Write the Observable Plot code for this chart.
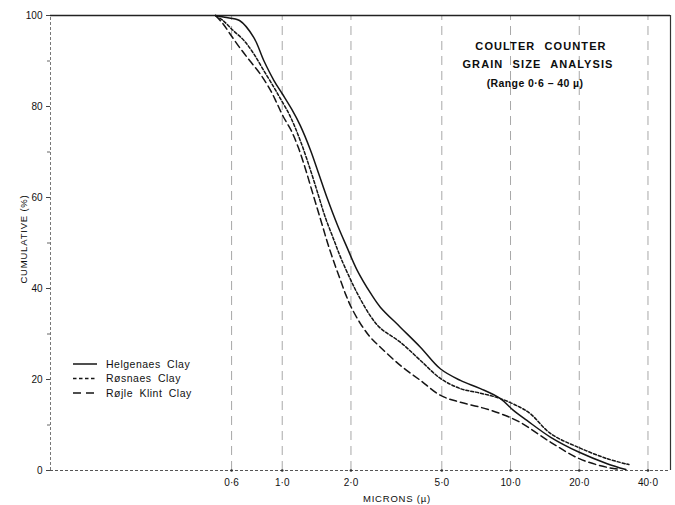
<!DOCTYPE html>
<html><head><meta charset="utf-8">
<script src="https://cdn.jsdelivr.net/npm/d3@7"></script>
<script src="https://cdn.jsdelivr.net/npm/@observablehq/plot@0.6"></script>
<style>
body{margin:0;background:#fff;font-family:"Liberation Sans",Arial,sans-serif;}
#wrap{position:relative;width:675px;height:505px;overflow:hidden;}
.t{position:absolute;color:#0d0d0d;white-space:nowrap;transform:translate(-50%,-50%);}
</style></head><body><div id="wrap"></div>
<script>
// ---- data ----
const xDomain = [0.0966, 50.2];
const xTicks = [0.6, 1, 2, 5, 10, 20, 40];
const xTickLabels = ["0·6", "1·0", "2·0", "5·0", "10·0", "20·0", "40·0"];
const yTicks = [0, 20, 40, 60, 80, 100];
const yMinorTicks = [10, 30, 50, 70, 90];
const seriesNames = ["Helgenaes Clay", "Røsnaes Clay", "Røjle Klint Clay"];

const helgenaesX = [0.51, 0.56, 0.65, 0.75, 0.83, 0.92, 1.0, 1.1, 1.2, 1.33, 1.45, 1.57, 1.75, 1.92, 2.13, 2.45, 2.69, 3.29, 4.03, 4.94, 6.03, 7.38, 9.03, 10.3, 11.8, 15, 20, 26.5, 32];
const helgenaesY = [100, 99.6, 98.9, 95.2, 90.1, 85.7, 82.8, 79.4, 75.8, 70.4, 65, 60, 53.8, 49.1, 44, 38.8, 35.9, 31.5, 27.1, 22.3, 19.8, 18, 15.8, 13.2, 11, 7.3, 4.0, 1.5, 0.2];

const rosnaesX = [0.51, 0.55, 0.61, 0.68, 0.75, 0.83, 0.92, 0.98, 1.08, 1.2, 1.33, 1.44, 1.54, 1.68, 1.8, 1.99, 2.16, 2.43, 2.69, 3.29, 4.03, 4.94, 6.03, 7.38, 9.03, 11, 12.2, 15, 20, 26.5, 33];
const rosnaesY = [100, 98.9, 96.7, 94.5, 91.6, 87.9, 84.2, 81.8, 78, 72.5, 66, 60.5, 55.8, 50.8, 46.9, 42, 38.4, 34, 31.3, 28.2, 24.2, 20.2, 18, 17, 15.8, 13.9, 12.5, 8.1, 5.0, 2.6, 1.3];

const rojleX = [0.51, 0.55, 0.59, 0.65, 0.72, 0.8, 0.89, 0.95, 1.01, 1.1, 1.18, 1.26, 1.34, 1.42, 1.5, 1.58, 1.68, 1.8, 1.9, 2.0, 2.2, 2.43, 2.69, 3.29, 4.03, 4.94, 6.03, 7.38, 9.03, 11, 15, 20, 26.5, 30];
const rojleY = [100, 98.2, 96, 93, 90.1, 87.2, 83.5, 80.6, 77.8, 74.5, 70.8, 66.5, 62, 57.8, 53.8, 50, 46, 41.8, 38.6, 36, 32.3, 29.3, 27.1, 23.1, 19.8, 16.5, 15, 13.9, 12.5, 10.6, 6.2, 2.6, 0.7, 0.3];

const dashes = [null, "3,2", "7,4"];
const allX = [helgenaesX, rosnaesX, rojleX];
const allY = [helgenaesY, rosnaesY, rojleY];
const rows = seriesNames.flatMap((s, i) => allX[i].map((x, j) => ({series: s, x, y: allY[i][j]})));

const lineMarks = seriesNames.map((s, i) =>
  Plot.line(rows.filter(d => d.series === s), {
    x: "x", y: "y", curve: "catmull-rom", stroke: "#151515", strokeWidth: 1.5,
    strokeDasharray: dashes[i] ?? undefined
  }));

const chart = Plot.plot({
  width: 675, height: 505,
  marginLeft: 50, marginRight: 5, marginTop: 15, marginBottom: 35,
  style: {fontFamily: '"Liberation Sans", Arial, sans-serif', fontSize: "10px", color: "#111", background: "#fff"},
  x: {type: "log", domain: xDomain, axis: null},
  y: {domain: [0, 100], axis: null},
  marks: [
    Plot.ruleX(xTicks, {y1: 0, y2: 100, stroke: "#a8a8a8", strokeDasharray: "9,6", strokeWidth: 1}),
    Plot.ruleX([xDomain[0]], {y1: 0, y2: 100, stroke: "#777", strokeDasharray: "3,2", strokeWidth: 1}),
    Plot.ruleX([xDomain[1]], {y1: 0, y2: 100, stroke: "#333", strokeWidth: 1.2}),
    Plot.ruleY([0], {stroke: "#555", strokeDasharray: "3,2", strokeWidth: 1}),
    Plot.ruleY([100], {stroke: "#222", strokeWidth: 1.4}),
    Plot.axisY(yTicks, {tickSize: 4, tickPadding: 4, fontSize: 10, label: null, stroke: "#444"}),
    Plot.axisY(yMinorTicks, {tickSize: 3, tickFormat: () => "", label: null, stroke: "#666"}),
    Plot.dot(xTicks, {x: d => d, y: 0, r: 1.3, fill: "#333"}),
    Plot.text(xTicks, {x: d => d, y: 0, dy: 12, text: (d, i) => xTickLabels[i], fontSize: 10, fill: "#111"}),
    ...lineMarks
  ]
});

const wrap = document.getElementById("wrap");
wrap.appendChild(chart);

function addText(txt, x, y, style) {
  const d = document.createElement("div");
  d.className = "t";
  d.textContent = txt;
  d.style.left = x + "px";
  d.style.top = y + "px";
  Object.assign(d.style, style);
  wrap.appendChild(d);
}
const titleStyle = {fontSize: "11px", letterSpacing: "1.1px", wordSpacing: "5px", fontWeight: "600"};
addText("COULTER COUNTER", 541, 46, titleStyle);
addText("GRAIN SIZE ANALYSIS", 538, 64, titleStyle);
addText("(Range 0·6 – 40 µ)", 535, 83, {fontSize: "10.5px", letterSpacing: "0.4px", fontWeight: "600"});
addText("MICRONS (µ)", 397, 498, {fontSize: "9.5px", letterSpacing: "0.8px"});
addText("CUMULATIVE (%)", 23, 239, {fontSize: "9.5px", letterSpacing: "0.8px", transform: "translate(-50%,-50%) rotate(-90deg)"});

// legend
const ns = "http://www.w3.org/2000/svg";
const lg = document.createElementNS(ns, "svg");
lg.setAttribute("width", 200); lg.setAttribute("height", 60);
lg.style.position = "absolute"; lg.style.left = "70px"; lg.style.top = "355px";
seriesNames.forEach((s, i) => {
  const yy = 9 + i * 14.5;
  const l = document.createElementNS(ns, "line");
  l.setAttribute("x1", 3); l.setAttribute("x2", 27);
  l.setAttribute("y1", yy); l.setAttribute("y2", yy);
  l.setAttribute("stroke", "#151515"); l.setAttribute("stroke-width", 1.5);
  if (dashes[i]) l.setAttribute("stroke-dasharray", i === 2 ? "8,5" : "3.5,2.5");
  lg.appendChild(l);
  const t = document.createElementNS(ns, "text");
  t.setAttribute("x", 36); t.setAttribute("y", yy + 3.8);
  t.setAttribute("font-size", "10.5"); t.setAttribute("letter-spacing", "0.5");
  t.setAttribute("word-spacing", "3");
  t.setAttribute("font-family", '"Liberation Sans", Arial, sans-serif');
  t.setAttribute("fill", "#111");
  t.textContent = s;
  lg.appendChild(t);
});
wrap.appendChild(lg);
</script>
</body></html>
